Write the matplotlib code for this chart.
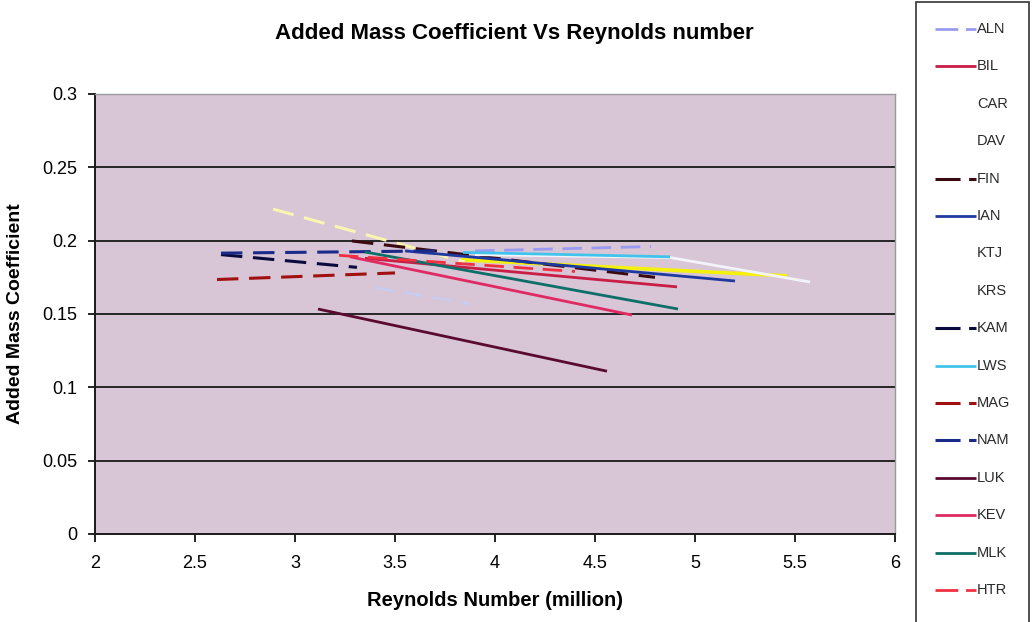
import matplotlib
matplotlib.use("Agg")
import matplotlib.pyplot as plt
from matplotlib.lines import Line2D
from matplotlib.patches import Rectangle

plt.rcParams['font.family'] = ['Liberation Sans', 'DejaVu Sans']

# Reynolds number (million) and added mass coefficient per subject
series_names = ["ALN", "BIL", "CAR", "DAV", "FIN", "IAN", "KTJ", "KRS",
                "KAM", "LWS", "MAG", "NAM", "LUK", "KEV", "MLK", "HTR"]

aln_re = [3.90, 4.78]
aln_ca = [0.193, 0.196]
bil_re = [3.35, 4.91]
bil_ca = [0.188, 0.1685]
car_re = [3.83, 5.46]
car_ca = [0.187, 0.176]
dav_re = [2.89, 3.85]
dav_ca = [0.2215, 0.1855]
fin_re = [3.285, 4.80]
fin_ca = [0.1998, 0.175]
ian_re = [3.55, 5.20]
ian_ca = [0.193, 0.1725]
ktj_re = [3.90, 4.875, 5.575]
ktj_ca = [0.1905, 0.1885, 0.1718]
krs_re = [3.40, 3.875]
krs_ca = [0.168, 0.157]
kam_re = [2.63, 3.31]
kam_ca = [0.1905, 0.1818]
lws_re = [3.84, 4.875]
lws_ca = [0.192, 0.189]
mag_re = [2.61, 3.50]
mag_ca = [0.1735, 0.178]
nam_re = [2.63, 3.70]
nam_ca = [0.1915, 0.193]
luk_re = [3.115, 4.56]
luk_ca = [0.1534, 0.111]
kev_re = [3.275, 4.685]
kev_ca = [0.189, 0.1493]
mlk_re = [3.35, 4.915]
mlk_ca = [0.1923, 0.1534]
htr_re = [3.22, 4.40]
htr_ca = [0.190, 0.179]

series_data = {
    "ALN": (aln_re, aln_ca), "BIL": (bil_re, bil_ca), "CAR": (car_re, car_ca),
    "DAV": (dav_re, dav_ca), "FIN": (fin_re, fin_ca), "IAN": (ian_re, ian_ca),
    "KTJ": (ktj_re, ktj_ca), "KRS": (krs_re, krs_ca), "KAM": (kam_re, kam_ca),
    "LWS": (lws_re, lws_ca), "MAG": (mag_re, mag_ca), "NAM": (nam_re, nam_ca),
    "LUK": (luk_re, luk_ca), "KEV": (kev_re, kev_ca), "MLK": (mlk_re, mlk_ca),
    "HTR": (htr_re, htr_ca),
}

DASH = (7, 3.5)
styles = {
    "ALN": dict(color="#9A9AF0", dashes=DASH, lw=2.0),
    "BIL": dict(color="#C81E46", lw=2.0),
    "CAR": dict(color="#F4F20A", lw=2.6),
    "DAV": dict(color="#FAF5B0", dashes=DASH, lw=2.2),
    "FIN": dict(color="#3A0A10", dashes=DASH, lw=2.2),
    "IAN": dict(color="#1E3AA0", lw=2.0),
    "KTJ": dict(color="#F2F4FA", lw=2.0),
    "KRS": dict(color="#C8CCEE", dashes=DASH, lw=2.0),
    "KAM": dict(color="#0A0A3C", dashes=DASH, lw=2.2),
    "LWS": dict(color="#40C4EC", lw=2.0),
    "MAG": dict(color="#A01010", dashes=DASH, lw=2.2),
    "NAM": dict(color="#1A2A8A", dashes=DASH, lw=2.2),
    "LUK": dict(color="#5A0A30", lw=2.0),
    "KEV": dict(color="#E02A64", lw=2.0),
    "MLK": dict(color="#0E6E68", lw=2.0),
    "HTR": dict(color="#F03040", dashes=DASH, lw=2.0),
}
legend_hidden = {"CAR", "DAV", "KTJ", "KRS"}

x_ticks = [2, 2.5, 3, 3.5, 4, 4.5, 5, 5.5, 6]
x_tick_labels = ["2", "2.5", "3", "3.5", "4", "4.5", "5", "5.5", "6"]
y_ticks = [0, 0.05, 0.1, 0.15, 0.2, 0.25, 0.3]
y_tick_labels = ["0", "0.05", "0.1", "0.15", "0.2", "0.25", "0.3"]

W, H = 1032, 622
fig = plt.figure(figsize=(W / 100, H / 100), dpi=100)
fig.patch.set_facecolor("white")
ax = fig.add_axes([95 / W, 1 - 534 / H, 800 / W, 440 / H])
ax.set_facecolor("#D8C5D6")

for yt in y_ticks[1:]:
    ax.axhline(yt, color="#262626", lw=1.4, zorder=1)

for name in series_names:
    xs, ys = series_data[name]
    st = dict(styles[name])
    dashes = st.pop("dashes", None)
    line, = ax.plot(xs, ys, solid_capstyle="butt", zorder=3, **st)
    if dashes:
        line.set_dashes(dashes)
        line.set_dash_capstyle("butt")

ax.set_xlim(2, 6)
ax.set_ylim(0, 0.3)
ax.set_xticks(x_ticks)
ax.set_xticklabels(x_tick_labels, fontsize=13)
ax.set_yticks(y_ticks)
ax.set_yticklabels(y_tick_labels, fontsize=13)
ax.tick_params(axis="x", direction="out", length=6, width=1.2, pad=9)
ax.tick_params(axis="y", direction="out", length=5, width=1.2, pad=8)
for s in ("left", "bottom"):
    ax.spines[s].set_color("#1A1A1A")
    ax.spines[s].set_linewidth(1.4)
for s in ("top", "right"):
    ax.spines[s].set_color("#9A9A9A")
    ax.spines[s].set_linewidth(1.0)

ax.set_xlabel("Reynolds Number (million)", fontsize=14.5, fontweight="bold", labelpad=14)
ax.set_ylabel("Added Mass Coefficient", fontsize=14, fontweight="bold", labelpad=13)
fig.text(514 / W, 1 - 33 / H, "Added Mass Coefficient Vs Reynolds number",
         ha="center", va="center", fontsize=16, fontweight="bold")

# legend panel at the right edge
fig.add_artist(Rectangle((916 / W, -0.05), 113 / W, 1.05 - 2 / H,
                         transform=fig.transFigure, facecolor="white",
                         edgecolor="#333333", lw=1.2))
row0, step = 29, 37.4
for i, name in enumerate(series_names):
    yc = 1 - (row0 + i * step) / H
    if name not in legend_hidden:
        st = dict(styles[name])
        dashes = st.pop("dashes", None)
        ln = Line2D([935 / W, 976 / W], [yc, yc], transform=fig.transFigure,
                    solid_capstyle="butt", **st)
        if dashes:
            ln.set_dashes((8.2, 2.8))
            ln.set_dash_capstyle("butt")
        fig.add_artist(ln)
    fig.text(977 / W, yc, name, ha="left", va="center", fontsize=10.5,
             color="#2A2A2A")

fig.savefig("out.png", dpi=100)
